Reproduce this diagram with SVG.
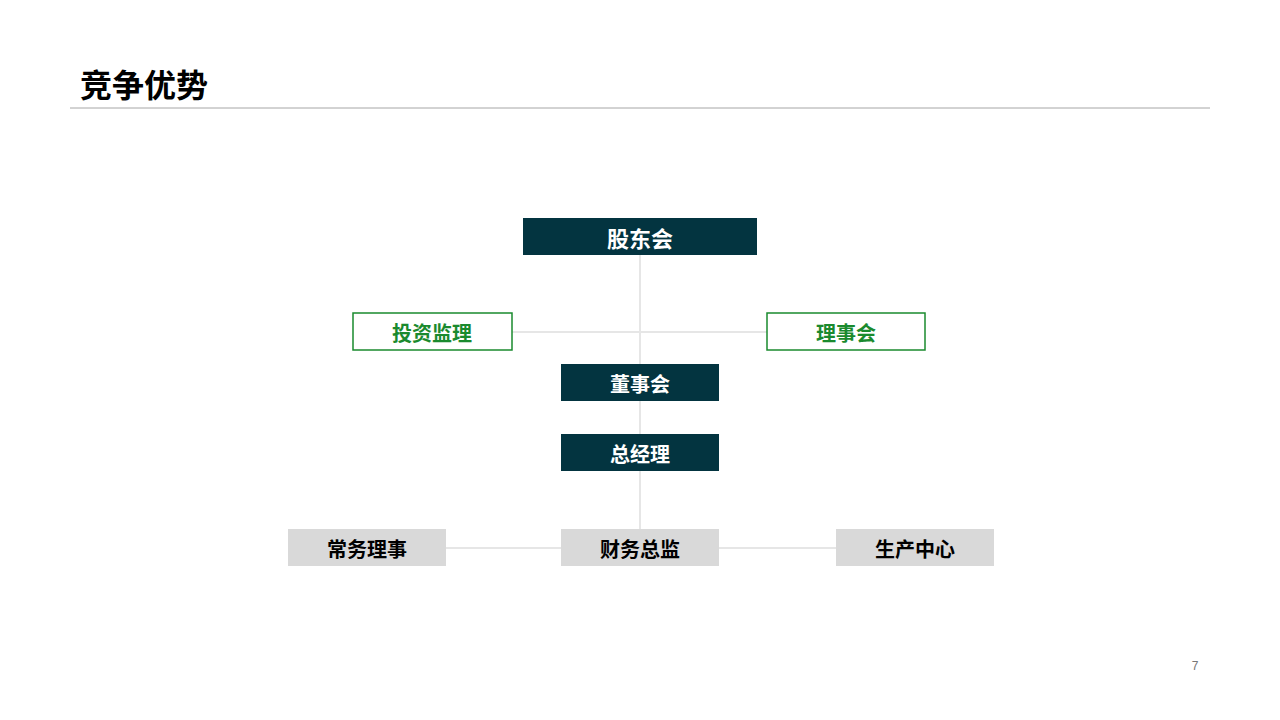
<svg xmlns="http://www.w3.org/2000/svg" width="1280" height="720" viewBox="0 0 1280 720">
<style>
text{font-family:"Noto Sans CJK SC","Liberation Sans",sans-serif;font-weight:bold;text-anchor:middle;dominant-baseline:central}
.dk rect{fill:#033440}.dk text{fill:#fff;font-size:20px}
.gr rect{fill:#fff;stroke:#1a8a2e;stroke-width:1.5}.gr text{fill:#1a8a2e;font-size:20px}
.gy rect{fill:#d9d9d9}.gy text{fill:#000;font-size:20px}
.c line{stroke:#e6e6e6;stroke-width:2}
</style>
<rect width="1280" height="720" fill="#fff"/>
<text x="80" y="83" style="text-anchor:start;font-size:32px;fill:#000">竞争优势</text>
<line x1="70" y1="108" x2="1210" y2="108" stroke="#a6a6a6" stroke-width="1"/>
<g class="c">
<line x1="640" y1="255" x2="640" y2="530"/>
<line x1="512" y1="332" x2="767" y2="332"/>
<line x1="446" y1="548" x2="836" y2="548"/>
</g>
<g id="n1" class="dk"><rect x="523" y="218" width="234" height="37"/><text x="640" y="237" style="font-size:22px">股东会</text></g>
<g id="n2" class="gr"><rect x="353" y="313" width="159" height="37"/><text x="432" y="332">投资监理</text></g>
<g id="n3" class="gr"><rect x="767" y="313" width="158" height="37"/><text x="846" y="332">理事会</text></g>
<g id="n4" class="dk"><rect x="561" y="364" width="158" height="37"/><text x="640" y="383">董事会</text></g>
<g id="n5" class="dk"><rect x="561" y="434" width="158" height="37"/><text x="640" y="453">总经理</text></g>
<g id="n6" class="gy"><rect x="288" y="529" width="158" height="37"/><text x="367" y="548">常务理事</text></g>
<g id="n7" class="gy"><rect x="561" y="529" width="158" height="37"/><text x="640" y="548">财务总监</text></g>
<g id="n8" class="gy"><rect x="836" y="529" width="158" height="37"/><text x="915" y="548">生产中心</text></g>
<text x="1195" y="666" style="font-family:'Liberation Sans',sans-serif;font-weight:normal;font-size:12px;fill:#777">7</text>
</svg>
